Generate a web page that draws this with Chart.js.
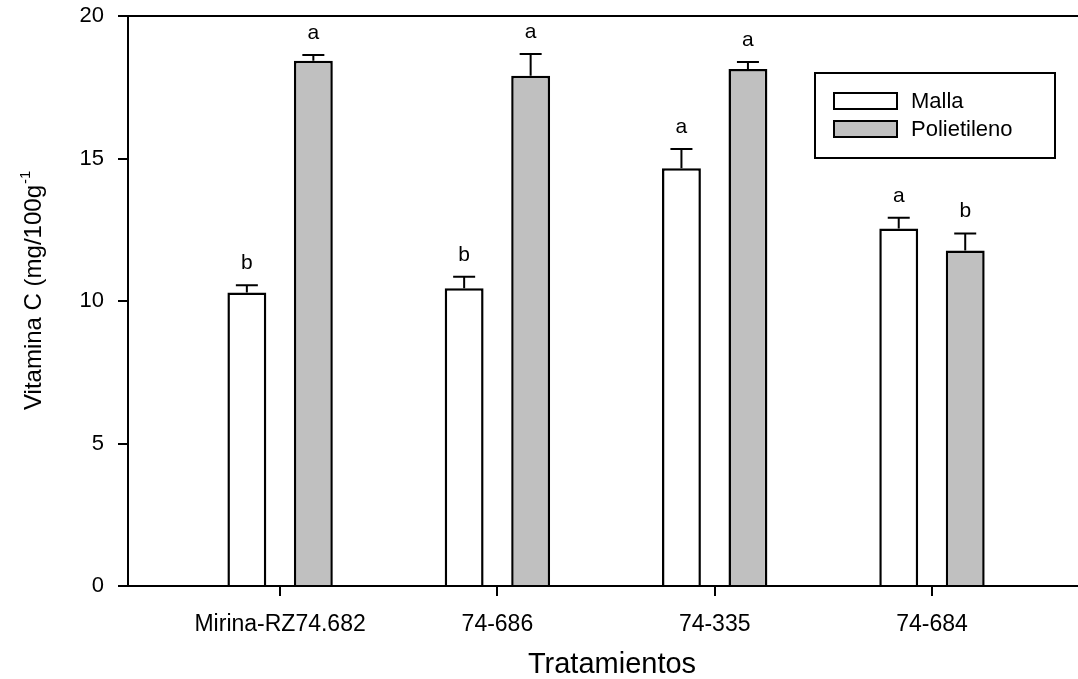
<!DOCTYPE html>
<html>
<head>
<meta charset="utf-8">
<script src="https://cdn.jsdelivr.net/npm/chart.js@4.4.1/dist/chart.umd.min.js"></script>
<style>
  html, body { margin: 0; padding: 0; background: #ffffff; }
  #wrap { width: 1078px; height: 679px; position: relative; }
</style>
</head>
<body>
<div id="wrap"><canvas id="c" width="1078" height="679"></canvas></div>
<script>
const categories = ['Mirina-RZ74.682', '74-686', '74-335', '74-684'];
const seriesNames = ['Malla', 'Polietileno'];
const mallaValues = [10.30, 10.45, 14.66, 12.54];
const mallaErrors = [0.25, 0.40, 0.67, 0.38];
const mallaLetters = ['b', 'b', 'a', 'a'];
const polietilenoValues = [18.43, 17.90, 18.14, 11.77];
const polietilenoErrors = [0.20, 0.77, 0.25, 0.60];
const polietilenoLetters = ['a', 'a', 'a', 'b'];
const yTicks = [0, 5, 10, 15, 20];
const xTitle = 'Tratamientos';
const yTitle = 'Vitamina C (mg/100g';
const yTitleSup = '-1';

const FONT = '"Liberation Sans", Arial, sans-serif';
const seriesColors = ['#ffffff', '#c0c0c0'];
const seriesErrors = [mallaErrors, polietilenoErrors];
const seriesLetters = [mallaLetters, polietilenoLetters];

function toPoints(vals) {
  return vals.map((v, i) => ({ x: i + 1, y: v }));
}

const extrasPlugin = {
  id: 'extras',
  afterDatasetsDraw(chart) {
    const ctx = chart.ctx;
    const ys = chart.scales.y;
    ctx.save();
    chart.data.datasets.forEach((ds, di) => {
      const meta = chart.getDatasetMeta(di);
      meta.data.forEach((el, j) => {
        const v = ds.data[j].y;
        const top = ys.getPixelForValue(v + seriesErrors[di][j]);
        ctx.strokeStyle = '#000';
        ctx.lineWidth = 2;
        ctx.beginPath();
        ctx.moveTo(el.x, el.y);
        ctx.lineTo(el.x, top);
        ctx.moveTo(el.x - 11, top);
        ctx.lineTo(el.x + 11, top);
        ctx.stroke();
        ctx.fillStyle = '#000';
        ctx.font = '21px ' + FONT;
        ctx.textAlign = 'center';
        ctx.textBaseline = 'alphabetic';
        ctx.fillText(seriesLetters[di][j], el.x, top - 16);
      });
    });
    ctx.restore();
  },
  afterDraw(chart) {
    const ctx = chart.ctx;
    const ca = chart.chartArea;
    ctx.save();
    // legend
    ctx.strokeStyle = '#000';
    ctx.lineWidth = 2;
    ctx.fillStyle = '#fff';
    ctx.fillRect(815, 73, 240, 85);
    ctx.strokeRect(815, 73, 240, 85);
    seriesNames.forEach((name, i) => {
      const y = 93 + i * 28;
      ctx.fillStyle = seriesColors[i];
      ctx.fillRect(834, y, 63, 16);
      ctx.lineWidth = 2;
      ctx.strokeRect(834, y, 63, 16);
      ctx.fillStyle = '#000';
      ctx.font = '22px ' + FONT;
      ctx.textAlign = 'left';
      ctx.textBaseline = 'middle';
      ctx.fillText(name, 911, y + 9);
    });
    // x title
    ctx.fillStyle = '#000';
    ctx.font = '29px ' + FONT;
    ctx.textAlign = 'center';
    ctx.textBaseline = 'alphabetic';
    ctx.fillText(xTitle, (ca.left + ca.right) / 2 + 9, 673);
    // y title
    ctx.translate(41, 410);
    ctx.rotate(-Math.PI / 2);
    ctx.font = '24px ' + FONT;
    ctx.textAlign = 'left';
    ctx.fillText(yTitle, 0, 0);
    const w = ctx.measureText(yTitle).width;
    ctx.font = '15px ' + FONT;
    ctx.fillText(yTitleSup, w + 1, -11);
    ctx.restore();
  }
};

new Chart(document.getElementById('c'), {
  type: 'bar',
  data: {
    datasets: [
      { label: seriesNames[0], data: toPoints(mallaValues), backgroundColor: seriesColors[0], borderColor: '#000', borderWidth: 2.5 },
      { label: seriesNames[1], data: toPoints(polietilenoValues), backgroundColor: seriesColors[1], borderColor: '#000', borderWidth: 2.5 }
    ]
  },
  options: {
    responsive: false,
    animation: false,
    devicePixelRatio: 1,
    layout: { padding: { top: 16, right: 0, left: 0, bottom: 0 } },
    categoryPercentage: 0.612,
    barPercentage: 0.585,
    plugins: { legend: { display: false }, tooltip: { enabled: false } },
    scales: {
      x: {
        type: 'linear',
        offset: false,
        min: 0.3,
        max: 4.672,
        afterBuildTicks(scale) { scale.ticks = categories.map((c, i) => ({ value: i + 1 })); },
        afterFit(scale) { scale.height = 93; scale.paddingLeft = 0; scale.paddingRight = 0; },
        ticks: {
          autoSkip: false, maxRotation: 0, minRotation: 0,
          padding: 15, color: '#000',
          font: { family: FONT, size: 23 },
          callback: (v, i) => categories[i]
        },
        grid: { display: true, offset: false, drawOnChartArea: false, drawTicks: true, tickLength: 10, color: '#000', lineWidth: 2 },
        border: { display: true, color: '#000', width: 2 }
      },
      y: {
        type: 'linear',
        min: 0,
        max: 20,
        afterBuildTicks(scale) { scale.ticks = yTicks.map(v => ({ value: v })); },
        afterFit(scale) { scale.width = 128; scale.paddingTop = 0; scale.paddingBottom = 0; },
        ticks: { padding: 14, color: '#000', font: { family: FONT, size: 22 } },
        grid: {
          display: true, drawOnChartArea: true, drawTicks: true, tickLength: 10,
          color: (c) => (c.tick && c.tick.value === 20 ? '#000' : 'rgba(0,0,0,0)'),
          tickColor: '#000', lineWidth: 2
        },
        border: { display: true, color: '#000', width: 2 }
      }
    }
  },
  plugins: [extrasPlugin]
});
</script>
</body>
</html>
